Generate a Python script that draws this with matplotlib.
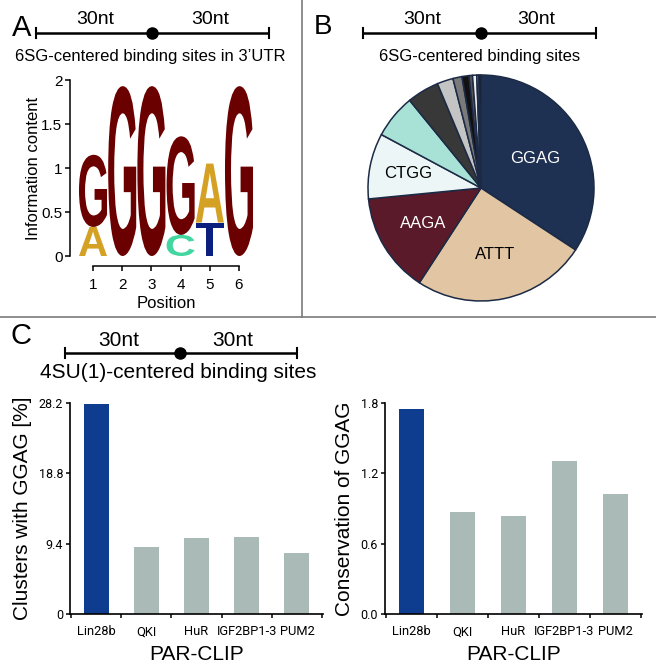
import matplotlib
matplotlib.use('Agg')
import matplotlib.pyplot as plt
from matplotlib.textpath import TextPath
from matplotlib.font_manager import FontProperties
from matplotlib.patches import PathPatch
from matplotlib.transforms import Affine2D
import numpy as np

plt.rcParams['font.family'] = ['Liberation Sans', 'DejaVu Sans']

# ---------------- data ----------------
# Panel A: sequence logo
logo_positions = [1, 2, 3, 4, 5, 6]
logo_letters = [['A', 'G'], ['G'], ['G'], ['C', 'G'], ['T', 'A'], ['G']]
logo_heights = [[0.33, 0.82], [1.93], [1.93], [0.24, 1.12], [0.38, 0.67], [1.93]]
logo_yticks = [0, 0.5, 1, 1.5, 2]
logo_yticklabels = ['0', '0.5', '1', '1.5', '2']
letter_colors = {'G': '#6B0000', 'A': '#D4A124', 'C': '#43D6A0', 'T': '#0B1F7E'}

# Panel B: pie of motifs
pie_labels = ['GGAG', 'ATTT', 'AAGA', 'CTGG', '', '', '', '', '', '', '', '', '']
pie_values = [34.3, 25.0, 14.3, 9.4, 6.3, 4.6, 2.3, 1.3, 1.0, 0.5, 0.6, 0.3, 0.3]
pie_colors = ['#1F3152', '#E2C6A3', '#5A1A29', '#EDF6F6', '#A8E2D6', '#383838',
              '#C4C4C4', '#7A7A7A', '#111111', '#555555', '#EEEEEE', '#888888', '#111111']
pie_text_colors = ['white', 'black', 'white', 'black']

# Panel C: bar charts
proteins = ['Lin28b', 'QKI', 'HuR', 'IGF2BP1-3', 'PUM2']
clusters_pct = [28.0, 9.0, 10.2, 10.3, 8.2]
conservation = [1.746, 0.867, 0.839, 1.307, 1.018]
clusters_ticks = [0, 9.4, 18.8, 28.2]
clusters_ticklabels = ['0', '9.4', '18.8', '28.2']
conservation_ticks = [0.0, 0.6, 1.2, 1.8]
conservation_ticklabels = ['0.0', '0.6', '1.2', '1.8']
bar_colors = ['#0E3D8F', '#A9BAB7', '#A9BAB7', '#A9BAB7', '#A9BAB7']

# ---------------- figure ----------------
W, H = 656, 672
fig = plt.figure(figsize=(W / 100, H / 100), dpi=100)

# overlay axes in pixel coordinates for annotations
ov = fig.add_axes([0, 0, 1, 1])
ov.set_xlim(0, W)
ov.set_ylim(H, 0)
ov.axis('off')

# panel borders
ov.plot([302, 302], [0, 317], color='#7A7A7A', lw=1.2)
ov.plot([0, W], [317, 317], color='#7A7A7A', lw=1.2)


def scale_bar(x0, x1, y, xm, lab1, lab2, ly, fs):
    ov.plot([x0, x1], [y, y], color='black', lw=1.8, solid_capstyle='butt')
    ov.plot([x0, x0], [y - 5, y + 5], color='black', lw=1.5)
    ov.plot([x1, x1], [y - 5, y + 5], color='black', lw=1.5)
    ov.plot([xm], [y], marker='o', ms=8, color='black')
    ov.text(lab1, ly, '30nt', fontsize=fs, ha='center', va='center')
    ov.text(lab2, ly, '30nt', fontsize=fs, ha='center', va='center')


# panel letters
ov.text(12, 36, 'A', fontsize=21, ha='left', va='baseline')
ov.text(314, 34, 'B', fontsize=20, ha='left', va='baseline')
ov.text(11, 344, 'C', fontsize=21, ha='left', va='baseline')

scale_bar(36, 269, 33, 152, 95, 210, 20, 14)
ov.text(150, 56, '6SG-centered binding sites in 3\u2019UTR', fontsize=12, ha='center', va='center')

scale_bar(363, 596, 33, 481, 422, 536, 20, 14)
ov.text(480, 57, '6SG-centered binding sites', fontsize=12, ha='center', va='center')

scale_bar(65, 297, 353, 180, 119, 233, 340, 15)
ov.text(178, 372, '4SU(1)-centered binding sites', fontsize=15, ha='center', va='center')

# ---------------- Panel A: logo ----------------
axA = fig.add_axes([78.4 / W, 416 / H, 175.2 / W, 176 / H])
axA.set_xlim(0.5, 6.5)
axA.set_ylim(0, 2)
fp = FontProperties(family='Liberation Sans', weight='bold')
lw_letter = 0.96
for pos, lets, hs in zip(logo_positions, logo_letters, logo_heights):
    y0 = 0.0
    for let, h in zip(lets, hs):
        tp = TextPath((0, 0), let, size=1, prop=fp)
        bb = tp.get_extents()
        tr = (Affine2D().translate(-bb.x0, -bb.y0)
              .scale(lw_letter / bb.width, h / bb.height)
              .translate(pos - lw_letter / 2, y0))
        axA.add_patch(PathPatch(tr.transform_path(tp), facecolor=letter_colors[let],
                                edgecolor='none'))
        y0 += h
for s in ['top', 'right']:
    axA.spines[s].set_visible(False)
axA.spines['left'].set_position(('outward', 6))
axA.spines['bottom'].set_position(('outward', 7))
axA.spines['left'].set_bounds(0, 2)
axA.spines['bottom'].set_bounds(1, 6)
for s in ['left', 'bottom']:
    axA.spines[s].set_linewidth(1.1)
axA.set_xticks(logo_positions)
axA.set_yticks(logo_yticks)
axA.set_yticklabels(logo_yticklabels)
axA.tick_params(direction='out', length=3.5, width=1.1, labelsize=11)
axA.tick_params(axis='y', pad=2)
axA.tick_params(axis='x', pad=5)
axA.set_xlabel('Position', fontsize=12, labelpad=3)
axA.set_ylabel('Information content', fontsize=12, labelpad=0)

# ---------------- Panel B: pie ----------------
r = 113
axB = fig.add_axes([(481 - r) / W, (H - 188 - r) / H, 2 * r / W, 2 * r / H])
wedges, _ = axB.pie(pie_values, colors=pie_colors, startangle=90, counterclock=False,
                    wedgeprops=dict(edgecolor='#1C2A45', linewidth=1.1))
axB.set_xlim(-1, 1)
axB.set_ylim(-1, 1)
label_dist = [0.55, 0.6, 0.6, 0.66]
for i, (w, lab) in enumerate(zip(wedges, pie_labels)):
    if not lab:
        continue
    ang = np.deg2rad((w.theta1 + w.theta2) / 2)
    d = label_dist[i]
    axB.text(d * np.cos(ang), d * np.sin(ang), lab, fontsize=12,
             color=pie_text_colors[i], ha='center', va='center')

# ---------------- Panel C: bars ----------------
tick_font = ['Roboto', 'Liberation Sans']


def bar_panel(rect, values, ticks, ticklabels, ylabel):
    ax = fig.add_axes(rect)
    x = np.arange(len(proteins))
    ax.bar(x, values, width=0.5, color=bar_colors)
    ax.set_xlim(-0.52, 4.52)
    ax.set_ylim(0, ticks[-1])
    for s in ['top', 'right']:
        ax.spines[s].set_visible(False)
    for s in ['left', 'bottom']:
        ax.spines[s].set_linewidth(1.2)
    ax.set_xticks(x)
    ax.set_xticklabels(proteins, family=tick_font, fontsize=9.3)
    ax.set_xticks(np.arange(-0.5, 5.0, 1.0), minor=True)
    ax.tick_params(axis='x', which='major', length=0, pad=8)
    ax.tick_params(axis='x', which='minor', length=3, width=1.1, direction='out')
    ax.set_yticks(ticks)
    ax.set_yticklabels(ticklabels, family=tick_font, fontsize=9)
    ax.tick_params(axis='y', length=3, width=1.1, direction='out', pad=2)
    ax.set_xlabel('PAR-CLIP', fontsize=15, labelpad=5)
    ax.set_ylabel(ylabel, fontsize=15, labelpad=5)
    return ax


bar_panel([70 / W, 58 / H, 253 / W, 211.3 / H], clusters_pct, clusters_ticks,
          clusters_ticklabels, 'Clusters with GGAG [%]')
bar_panel([385 / W, 58 / H, 257 / W, 211.3 / H], conservation, conservation_ticks,
          conservation_ticklabels, 'Conservation of GGAG')

fig.savefig('out.png', dpi=100)
